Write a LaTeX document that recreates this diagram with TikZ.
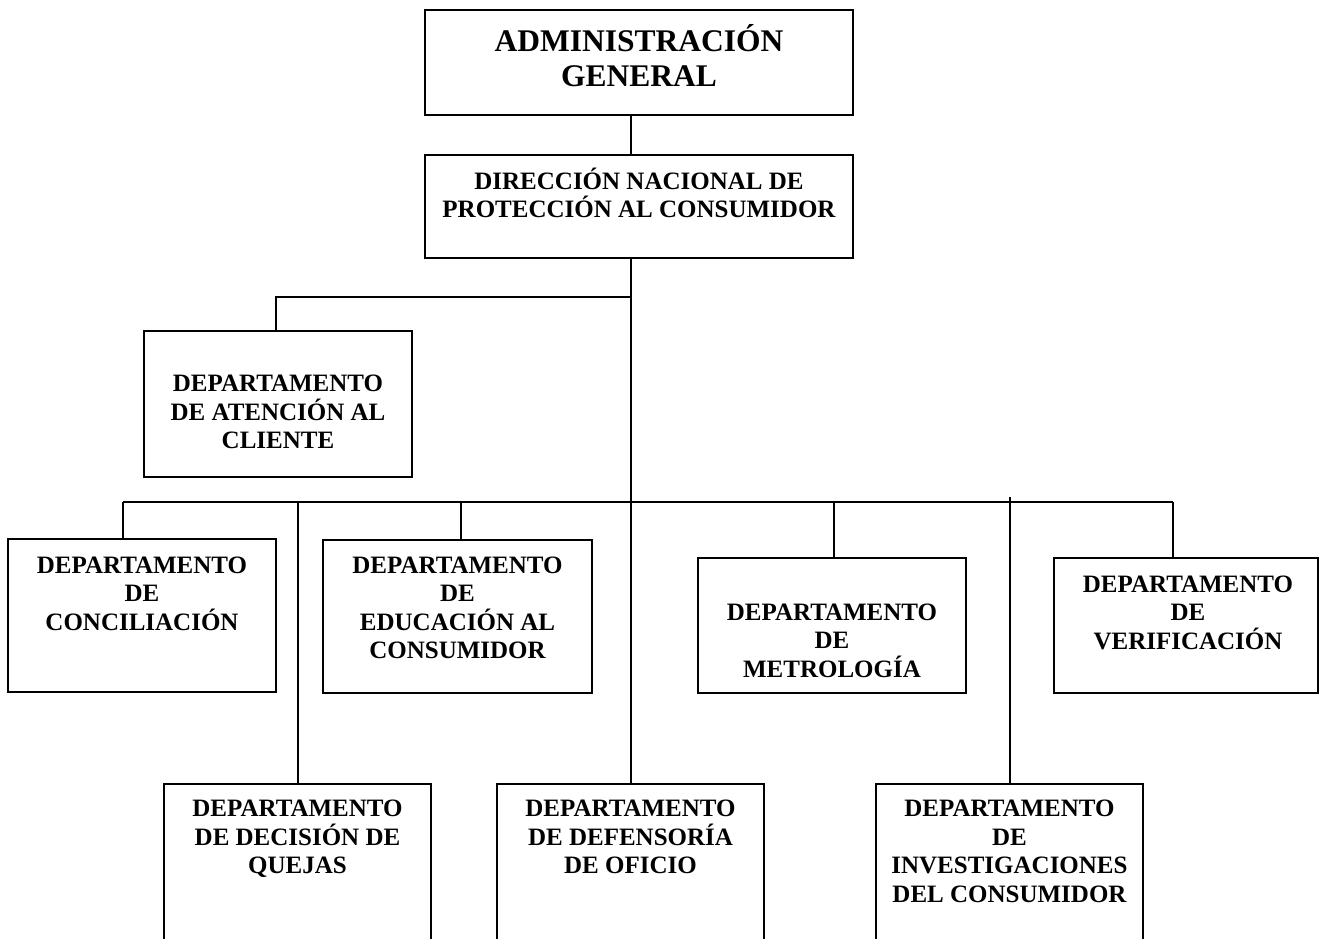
\documentclass[tikz,border=0pt]{standalone}
\usepackage{fontspec}
\setmainfont{Liberation Serif}
% strut of exactly 1em so every first line starts at the same height
\newcommand\topstrut{\rule{0pt}{1em}}
\newcommand\deptfont{\fontsize{25}{28.5}\selectfont\bfseries}
\newcommand\headfont{\fontsize{31.5}{35}\selectfont\bfseries}
\tikzset{
  box/.style={draw, rectangle, line width=1.8pt, inner sep=0pt, outer sep=0pt},
  lbl/.style={anchor=north, align=center, inner sep=0pt, font=\deptfont},
  headlbl/.style={lbl, font=\headfont},
  conn/.style={line width=1.8pt},
}
\begin{document}
\begin{tikzpicture}[x=1pt, y=-1pt]
\useasboundingbox (0,0) rectangle (1323,938);
\clip (0,0) rectangle (1323,938);

% boxes
\node[box, minimum width=428pt, minimum height=105pt] (adm) at (639,62.5) {};
\node[box, minimum width=428pt, minimum height=103pt] (dir) at (639,206.5) {};
\node[box, minimum width=268pt, minimum height=146pt] (aten) at (278,404) {};
\node[box, minimum width=268pt, minimum height=153pt] (conc) at (142,615.5) {};
\node[box, minimum width=269pt, minimum height=153pt] (edu) at (457.5,616.5) {};
\node[box, minimum width=268pt, minimum height=135pt] (metro) at (832,625.5) {};
\node[box, minimum width=264pt, minimum height=135pt] (verif) at (1186,625.5) {};
\node[box, minimum width=267pt, minimum height=200pt] (deci) at (297.5,884) {};
\node[box, minimum width=267pt, minimum height=200pt] (defen) at (630.5,884) {};
\node[box, minimum width=267pt, minimum height=200pt] (inv) at (1009.5,884) {};

% texts
\node[headlbl] (adm-t) at (639,19.8) {\topstrut ADMINISTRACIÓN\\GENERAL};
\node[lbl] (dir-t) at (639,164) {\topstrut DIRECCIÓN NACIONAL DE\\PROTECCIÓN AL CONSUMIDOR};
\node[lbl] (aten-t) at (278,366.5) {\topstrut DEPARTAMENTO\\DE ATENCIÓN AL\\CLIENTE};
\node[lbl] (conc-t) at (142,548) {\topstrut DEPARTAMENTO\\DE\\CONCILIACIÓN};
\node[lbl] (edu-t) at (457.5,548) {\topstrut DEPARTAMENTO\\DE\\EDUCACIÓN AL\\CONSUMIDOR};
\node[lbl] (metro-t) at (832,595) {\topstrut DEPARTAMENTO\\DE\\METROLOGÍA};
\node[lbl] (verif-t) at (1188,567) {\topstrut DEPARTAMENTO\\DE\\VERIFICACIÓN};
\node[lbl] (deci-t) at (297.5,791.5) {\topstrut DEPARTAMENTO\\DE DECISIÓN DE\\QUEJAS};
\node[lbl] (defen-t) at (630.5,791.5) {\topstrut DEPARTAMENTO\\DE DEFENSORÍA\\DE OFICIO};
\node[lbl] (inv-t) at (1009.5,791.5) {\topstrut DEPARTAMENTO\\DE\\INVESTIGACIONES\\DEL CONSUMIDOR};

% junction points
\coordinate (top) at (631,258);
\coordinate (j1) at (631,297);
\coordinate (a1) at (276,297);
\coordinate (b1) at (123,502);
\coordinate (b2) at (298,502);
\coordinate (b3) at (461,502);
\coordinate (b4) at (631,502);
\coordinate (b5) at (834,502);
\coordinate (b6) at (1010,497);
\coordinate (b7) at (1173,502);

% connectors
\draw[conn] (adm.south -| top) -- (dir.north -| top);
\draw[conn] (top) -- (top |- defen.north);
\draw[conn] (j1) -- (a1) -- (a1 |- aten.north);
\draw[conn] (b1) -- (b7);
\draw[conn] (b1) -- (b1 |- conc.north);
\draw[conn] (b2) -- (b2 |- deci.north);
\draw[conn] (b3) -- (b3 |- edu.north);
\draw[conn] (b5) -- (b5 |- metro.north);
\draw[conn] (b6) -- (b6 |- inv.north);
\draw[conn] (b7) -- (b7 |- verif.north);
\end{tikzpicture}
\end{document}
